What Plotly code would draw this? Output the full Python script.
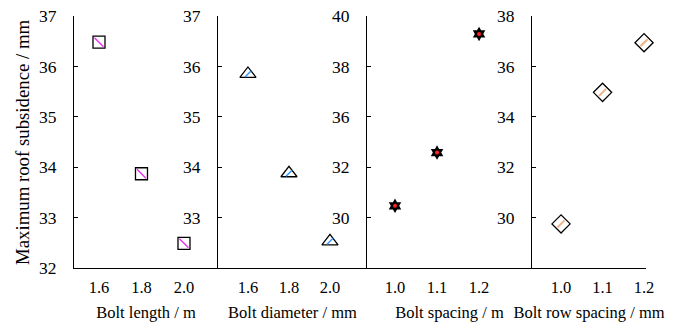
import plotly.graph_objects as go

# ---- data ----
bolt_length = [1.6, 1.8, 2.0]
sub_length = [36.48, 33.87, 32.49]

bolt_diameter = [1.6, 1.8, 2.0]
sub_diameter = [35.85, 33.88, 32.53]

bolt_spacing = [1.0, 1.1, 1.2]
sub_spacing = [32.47, 34.58, 39.29]   # in axis units of the (mislabelled) third axis

row_spacing = [1.0, 1.1, 1.2]
sub_row = [29.75, 34.97, 36.94]

x_titles = ["Bolt length / m", "Bolt diameter / mm", "Bolt spacing / m", "Bolt row spacing / mm"]
x_ticks = [["1.6", "1.8", "2.0"], ["1.6", "1.8", "2.0"], ["1.0", "1.1", "1.2"], ["1.0", "1.1", "1.2"]]

y_tickvals = [[32, 33, 34, 35, 36, 37], [33, 34, 35, 36, 37], [32, 34, 36, 38, 40], [30, 32, 34, 36, 38]]
y_ticktext = [["32", "33", "34", "35", "36", "37"], ["33", "34", "35", "36", "37"],
              ["30", "32", "36", "38", "40"], ["30", "32", "34", "36", "38"]]
y_ranges = [[32, 37], [32, 37], [30, 40], [28, 38]]
x_ranges = [[1.4824, 2.160], [1.4537, 2.1805], [0.9333, 1.326], [0.930, 1.2047]]
domains = [[0, 0.2517], [0.2517, 0.5122], [0.5122, 0.8007], [0.8007, 1.0]]

FONT = "Liberation Serif, Times New Roman, serif"
FS = 16.5

fig = go.Figure()

def add(i, x, y, **marker):
    xa = "x" if i == 0 else f"x{i+1}"
    ya = "y" if i == 0 else f"y{i+1}"
    fig.add_trace(go.Scatter(x=x, y=y, mode="markers", xaxis=xa, yaxis=ya,
                             marker=marker, showlegend=False, cliponaxis=False,
                             hoverinfo="x+y"))

# panel 1: squares with magenta slash
add(0, bolt_length, sub_length, symbol="square", size=12, color="white",
    line=dict(color="black", width=1.3))
add(0, bolt_length, sub_length, symbol="line-nw", size=9,
    line=dict(color="#ee33ee", width=1.5))
# panel 2: triangles with blue stroke
add(1, bolt_diameter, sub_diameter, symbol="triangle-up", size=14, color="white",
    line=dict(color="black", width=1.3))
add(1, bolt_diameter, sub_diameter, symbol="line-ne", size=6,
    line=dict(color="#3399ff", width=1.5))
# panel 3: black stars with red centre
add(2, bolt_spacing, sub_spacing, symbol="hexagram", size=11, color="black",
    line=dict(color="black", width=0))
add(2, bolt_spacing, sub_spacing, symbol="circle", size=4, color="#ff2222",
    line=dict(width=0))
# panel 4: diamonds with orange stroke
add(3, row_spacing, sub_row, symbol="diamond", size=14, color="white",
    line=dict(color="black", width=1.3))
add(3, row_spacing, sub_row, symbol="line-ne", size=7,
    line=dict(color="#f4b183", width=2))

layout = dict(
    width=689, height=327,
    margin=dict(l=74, r=43, t=16, b=59),
    paper_bgcolor="white", plot_bgcolor="white",
    font=dict(family=FONT, size=FS, color="black"),
)
for i in range(4):
    sx = "xaxis" if i == 0 else f"xaxis{i+1}"
    sy = "yaxis" if i == 0 else f"yaxis{i+1}"
    xa = "x" if i == 0 else f"x{i+1}"
    layout[sx] = dict(
        domain=domains[i], range=x_ranges[i], anchor="y" if i == 0 else f"y{i+1}",
        tickvals=[float(t) for t in x_ticks[i]], ticktext=x_ticks[i],
        showline=True, linecolor="black", linewidth=1, ticks="",
        ticklabelstandoff=4, automargin=False,
        showgrid=False, zeroline=False,
        title=dict(text=x_titles[i], standoff=10, font=dict(family=FONT, size=FS)),
        tickfont=dict(family=FONT, size=FS),
    )
    layout[sy] = dict(
        domain=[0, 1], range=y_ranges[i], anchor=xa,
        tickvals=y_tickvals[i], ticktext=y_ticktext[i],
        showline=True, linecolor="black", linewidth=1,
        ticks="inside", ticklen=4, tickcolor="black",
        ticklabelstandoff=13, automargin=False,
        showgrid=False, zeroline=False, tickfont=dict(family=FONT, size=17.5),
    )
fig.update_layout(**layout)

fig.add_annotation(text="Maximum roof subsidence / mm", xref="paper", yref="paper",
                   x=(22 - 74) / 572, y=0.5, textangle=-90, showarrow=False,
                   xanchor="center", yanchor="middle", font=dict(family=FONT, size=18.8))

fig.write_html("out.html")
